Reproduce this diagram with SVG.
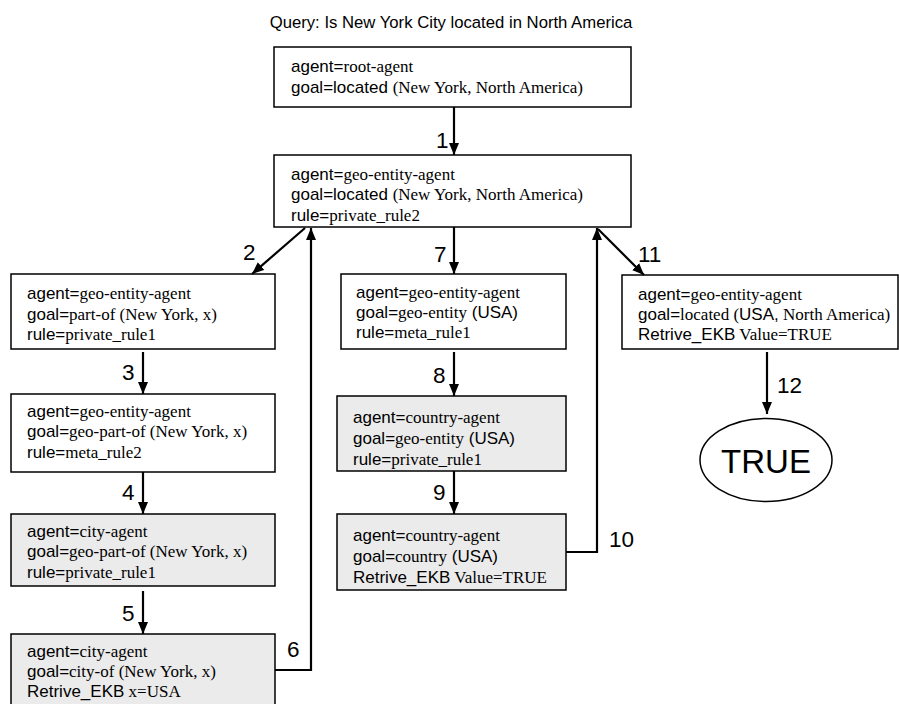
<svg xmlns="http://www.w3.org/2000/svg" width="899" height="704" viewBox="0 0 899 704">
<style>
.box{fill:#fff;stroke:#000;stroke-width:1.5}
.gray{fill:#ebebeb;stroke:#000;stroke-width:1.5}
.t{font-family:"Liberation Sans",Arial,sans-serif;font-size:17px;fill:#000}
.ti{font-family:"Liberation Sans",Arial,sans-serif;font-size:16.7px;fill:#000}
.s{font-family:"Liberation Serif","Times New Roman",serif}
.num{font-family:"Liberation Sans",Arial,sans-serif;font-size:22.5px;fill:#000}
.c{fill:none;stroke:#000;stroke-width:2.2;marker-end:url(#ah)}
</style>
<defs>
<marker id="ah" markerUnits="userSpaceOnUse" markerWidth="13" markerHeight="11" refX="12" refY="5" orient="auto">
<path d="M0,0 L12,5 L0,10 z" fill="#000"/>
</marker>
</defs>
<rect width="899" height="704" fill="#fff"/>
<text class="ti" x="451" y="28" text-anchor="middle">Query: Is New York City located in North America</text>

<g id="n-root">
<rect class="box" x="274" y="47" width="357" height="60"/>
<text class="t" x="291" y="72">agent=<tspan class="s">root-agent</tspan></text>
<text class="t" x="291" y="93">goal=located <tspan class="s">(New York, North America)</tspan></text>
</g>

<g id="n-geo1">
<rect class="box" x="274" y="155" width="357" height="72"/>
<text class="t" x="291" y="180">agent=<tspan class="s">geo-entity-agent</tspan></text>
<text class="t" x="291" y="200">goal=located <tspan class="s">(New York, North America)</tspan></text>
<text class="t" x="291" y="221">rule=<tspan class="s">private_rule2</tspan></text>
</g>

<g id="n-partof">
<rect class="box" x="11" y="274" width="264" height="75"/>
<text class="t" x="27" y="299">agent=<tspan class="s">geo-entity-agent</tspan></text>
<text class="t" x="27" y="320">goal=<tspan class="s">part-of (New York, x)</tspan></text>
<text class="t" x="27" y="340">rule=<tspan class="s">private_rule1</tspan></text>
</g>

<g id="n-geopartof">
<rect class="box" x="11" y="394" width="264" height="78"/>
<text class="t" x="27" y="417">agent=<tspan class="s">geo-entity-agent</tspan></text>
<text class="t" x="27" y="437">goal=<tspan class="s">geo-part-of (New York, x)</tspan></text>
<text class="t" x="27" y="458">rule=<tspan class="s">meta_rule2</tspan></text>
</g>

<g id="n-city1">
<rect class="gray" x="11" y="514" width="264" height="72"/>
<text class="t" x="27" y="537">agent=<tspan class="s">city-agent</tspan></text>
<text class="t" x="27" y="557">goal=<tspan class="s">geo-part-of (New York, x)</tspan></text>
<text class="t" x="27" y="578">rule=<tspan class="s">private_rule1</tspan></text>
</g>

<g id="n-city2">
<rect class="gray" x="11" y="634" width="264" height="80"/>
<text class="t" x="27" y="657">agent=<tspan class="s">city-agent</tspan></text>
<text class="t" x="27" y="677">goal=<tspan class="s">city-of (New York, x)</tspan></text>
<text class="t" x="27" y="697">Retrive_EKB<tspan class="s"> x=USA</tspan></text>
</g>

<g id="n-geoentity">
<rect class="box" x="341" y="274" width="225" height="75"/>
<text class="t" x="356" y="298">agent=<tspan class="s">geo-entity-agent</tspan></text>
<text class="t" x="356" y="318">goal=<tspan class="s">geo-entity</tspan> (USA)</text>
<text class="t" x="356" y="338">rule=<tspan class="s">meta_rule1</tspan></text>
</g>

<g id="n-country1">
<rect class="gray" x="337" y="396" width="229" height="75"/>
<text class="t" x="353" y="423">agent=<tspan class="s">country-agent</tspan></text>
<text class="t" x="353" y="444">goal=<tspan class="s">geo-entity</tspan> (USA)</text>
<text class="t" x="353" y="465">rule=<tspan class="s">private_rule1</tspan></text>
</g>

<g id="n-country2">
<rect class="gray" x="337" y="514" width="229" height="76"/>
<text class="t" x="353" y="541">agent=<tspan class="s">country-agent</tspan></text>
<text class="t" x="353" y="562">goal=<tspan class="s">country</tspan> (USA)</text>
<text class="t" x="353" y="583">Retrive_EKB<tspan class="s"> Value=TRUE</tspan></text>
</g>

<g id="n-located">
<rect class="box" x="622" y="275" width="276" height="74"/>
<text class="t" x="638" y="300">agent=<tspan class="s">geo-entity-agent</tspan></text>
<text class="t" x="638" y="320">goal=<tspan class="s">located (</tspan>USA,<tspan class="s"> North America)</tspan></text>
<text class="t" x="638" y="340">Retrive_EKB<tspan class="s"> Value=TRUE</tspan></text>
</g>

<g id="n-true">
<ellipse cx="766" cy="460" rx="66" ry="41.5" fill="#fff" stroke="#000" stroke-width="1.5"/>
<text x="766" y="473" text-anchor="middle" font-family="Liberation Sans, Arial, sans-serif" font-size="33">TRUE</text>
</g>

<g id="connectors">
<path class="c" d="M454,107 V155"/>
<path class="c" d="M305,228 L252,274"/>
<path class="c" d="M143,352 V394"/>
<path class="c" d="M143,472 V514"/>
<path class="c" d="M143,591 V634"/>
<path class="c" d="M275,670 H311 V228"/>
<path class="c" d="M454,227 V274"/>
<path class="c" d="M454,352 V396"/>
<path class="c" d="M454,471 V514"/>
<path class="c" d="M566,552 H597 V228"/>
<path class="c" d="M598,229 L644,275"/>
<path class="c" d="M767,352 V414"/>
</g>

<g id="labels">
<text class="num" x="436" y="148">1</text>
<text class="num" x="243" y="260">2</text>
<text class="num" x="122" y="380">3</text>
<text class="num" x="122" y="500">4</text>
<text class="num" x="122" y="621">5</text>
<text class="num" x="287" y="657">6</text>
<text class="num" x="434" y="262">7</text>
<text class="num" x="433" y="383">8</text>
<text class="num" x="433" y="500">9</text>
<text class="num" x="609" y="547">10</text>
<text class="num" x="638" y="262">11</text>
<text class="num" x="777" y="393">12</text>
</g>
</svg>
